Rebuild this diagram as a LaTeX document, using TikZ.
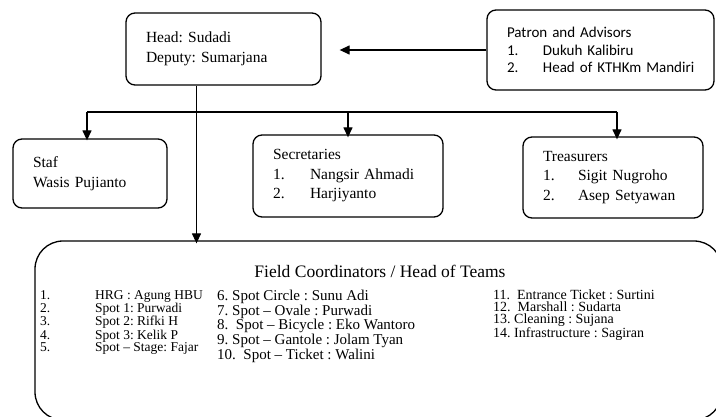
\documentclass[tikz,border=0pt]{standalone}
\usepackage{fontspec}
\setmainfont{Liberation Serif}
\newfontfamily\calfont{Carlito}
\usetikzlibrary{arrows.meta}
\frenchspacing

\begin{document}
\begin{tikzpicture}[x=1pt, y=-1pt,
		unitbox/.style={draw, line width=1.3pt, rounded corners=9pt, align=left, inner xsep=20pt, inner ysep=0pt, font=\fontsize{15.5}{19.5}\selectfont},
		fieldbox/.style={draw, line width=1.3pt, rounded corners=28pt, minimum width=687pt, minimum height=179pt},
		teamcol/.style={align=left, inner sep=0pt, anchor=north west, font=\fontsize{13.5}{11.8}\selectfont},
		down/.style={-{Triangle[length=10pt, width=9pt]}, line width=1.3pt}]
		\clip (0,0) rectangle (716,417);
		\useasboundingbox (0,0) rectangle (716,417);
		
		\node[unitbox, text width=155pt, minimum height=72pt] (head) at (223.5,49) {Head: Sudadi\\Deputy: Sumarjana};
		\node[unitbox, text width=187pt, minimum height=80pt, font=\calfont\fontsize{15}{17.5}\selectfont] (patron) at (600.5,50) {Patron and Advisors\\\makebox[36pt][l]{1.}\mbox{Dukuh Kalibiru}\\\makebox[36pt][l]{2.}\mbox{Head of KTHKm Mandiri}};
		\node[unitbox, text width=114pt, minimum height=69pt] (staf) at (90,173.5) {Staf\\Wasis Pujianto};
		\node[unitbox, text width=150pt, minimum height=82pt] (secr) at (348,176) {Secretaries\\\makebox[37pt][l]{1.}Nangsir Ahmadi\\\makebox[37pt][l]{2.}Harjiyanto};
		\node[unitbox, text width=140pt, minimum height=81pt] (treas) at (613,177.5) {Treasurers\\\makebox[35pt][l]{1.}Sigit Nugroho\\\makebox[35pt][l]{2.}Asep Setyawan};
		\node[fieldbox] (field) at (378.5,330.5) {};
		
		\node[font=\fontsize{17.5}{20}\selectfont] (title) at (380,271) {Field Coordinators / Head of Teams};
		\node[teamcol] (col1) at (40,290) {\makebox[55pt][l]{1.}HRG : Agung HBU\\\makebox[55pt][l]{2.}Spot 1: Purwadi\\\makebox[55pt][l]{3.}Spot 2: Rifki H\\\makebox[55pt][l]{4.}Spot 3: Kelik P\\\makebox[55pt][l]{5.}Spot -- Stage: Fajar};
		\node[teamcol, font=\fontsize{15}{11.8}\selectfont] (col2) at (217,290) {6. Spot Circle : Sunu Adi\\7. Spot -- Ovale : Purwadi\\8.\ \ Spot -- Bicycle : Eko Wantoro\\9. Spot -- Gantole : Jolam Tyan\\10.\ \ Spot -- Ticket : Walini};
		\node[teamcol, font=\fontsize{14}{11.8}\selectfont] (col3) at (493,290) {11.\ \ Entrance Ticket : Surtini\\12.\ \ Marshall : Sudarta\\13. Cleaning : Sujana\\14. Infrastructure : Sagiran};
		
		\coordinate (trunk) at ([xshift=-27pt]head.south);
		\coordinate (branch) at (trunk |- 0,112);
		\coordinate (headin) at ([xshift=18pt]head.east |- patron.west);
		
		\draw[down] (patron.west) -- (headin);
		\draw[down] (trunk) -- ([yshift=-3pt]trunk |- field.north);
		\draw[line width=1.3pt] (branch -| 87,0) -- (branch -| 617,0);
		\draw[down] (branch -| 87,0) -- ([yshift=-2pt]staf.north -| 87,0);
		\draw[down] (branch -| secr.north) -- ([yshift=-3pt]secr.north);
		\draw[down] (branch -| 617,0) -- ([yshift=-3pt]treas.north -| 617,0);
		
\end{tikzpicture}
\end{document}
